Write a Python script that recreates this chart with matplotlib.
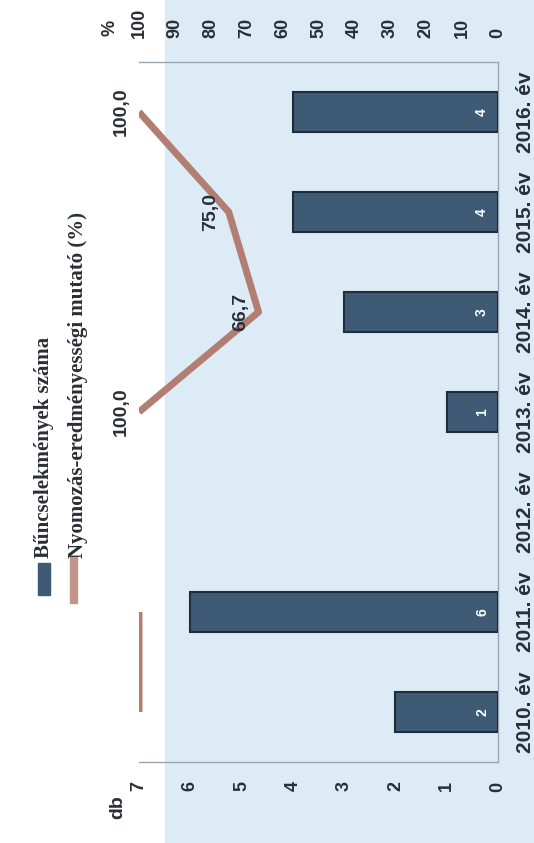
import matplotlib
matplotlib.use('Agg')
import matplotlib.pyplot as plt
import numpy as np
from matplotlib.patches import Rectangle
from matplotlib.lines import Line2D

# adatok
evek = ['2010. év', '2011. év', '2012. év', '2013. év', '2014. év', '2015. év', '2016. év']
bunc_szam = [2, 6, 0, 1, 3, 4, 4]
mutato = [100.0, 100.0, np.nan, 100.0, 66.7, 75.0, 100.0]
mutato_cimke = ['', '', '', '100,0', '66,7', '75,0', '100,0']
db_ticks = [0, 1, 2, 3, 4, 5, 6, 7]
pct_ticks = [0, 10, 20, 30, 40, 50, 60, 70, 80, 90, 100]
leg_bar = 'Bűncselekmények száma'
leg_line = 'Nyomozás-eredményességi mutató (%)'

W, H = 534, 843
SZOVEG = '#2a2e35'
OSZLOP = '#3e5a74'
VONAL = '#b27e72'
SANS = ['Liberation Sans', 'DejaVu Sans']
SERIF = ['Liberation Serif', 'DejaVu Serif']


def px(x, y):
    # kep pixel -> figure koordinata
    return x / W, 1 - y / H


fig = plt.figure(figsize=(W / 100, H / 100), dpi=100)
fig.patch.set_facecolor('white')

# a szkennelt lap kekes hattere
fig.patches.append(Rectangle(px(165, 843), (W - 165) / W, 1, transform=fig.transFigure,
                             color='#dcebf6', zorder=-1))

ax = fig.add_axes([139 / W, 1 - 762 / H, 359 / W, 700 / H])
ax.set_facecolor('none')
pos = np.arange(len(evek))

van = np.array(bunc_szam) > 0
ax.barh(pos[van], np.array(bunc_szam)[van], height=0.4, color=OSZLOP,
        edgecolor='#1f2d3a', linewidth=1.5, zorder=3)
ax.set_xlim(7, 0)
ax.set_ylim(-0.5, 6.5)

ax.set_xticks(db_ticks)
ax.set_xticklabels([str(t) for t in db_ticks], rotation=90, family=SANS,
                   fontweight='bold', fontsize=13, color=SZOVEG)
ax.yaxis.tick_right()
ax.set_yticks(pos)
ax.set_yticklabels(evek, rotation=90, va='center', family=SANS,
                   fontweight='bold', fontsize=15, color=SZOVEG)
ax.tick_params(length=0)
ax.tick_params(axis='x', pad=14)
ax.tick_params(axis='y', pad=13)

for s in ['top', 'bottom', 'right']:
    ax.spines[s].set_color('#9aa6b0')
    ax.spines[s].set_linewidth(1)
ax.spines['left'].set_visible(False)

# oszlop cimkek
for v, y in zip(bunc_szam, pos):
    if v:
        ax.annotate(str(v), (0, y), xytext=(-16, 0), textcoords='offset pixels',
                    rotation=90, ha='center', va='center', color='white', family=SANS,
                    fontsize=10, fontweight='bold', zorder=5)

# masodik tengely, szazalek
ax2 = ax.twiny()
ax2.set_xlim(100, 0)
ax2.plot(mutato, pos, color=VONAL, lw=5, solid_capstyle='butt', zorder=4)
ax2.set_xticks(pct_ticks)
ax2.set_xticklabels([str(t) for t in pct_ticks], rotation=90, family=SANS,
                    fontweight='bold', fontsize=13, color=SZOVEG)
ax2.tick_params(length=0, pad=17)
for s in ax2.spines.values():
    s.set_visible(False)

for x, y, c in zip(mutato, pos, mutato_cimke):
    if c:
        ax2.annotate(c, (x, y), xytext=(-18, 0), textcoords='offset pixels',
                     rotation=90, ha='center', va='center', family=SANS,
                     fontweight='bold', fontsize=14, color=SZOVEG, zorder=6)

# tengely feliratok
fig.text(*px(110, 28), '%', rotation=90, ha='center', va='center', family=SANS,
         fontweight='bold', fontsize=13, color=SZOVEG)
fig.text(*px(118, 807), 'db', rotation=90, ha='center', va='center', family=SANS,
         fontweight='bold', fontsize=14, color=SZOVEG)

# jelmagyarazat
fig.patches.append(Rectangle(px(38, 595), 12 / W, 32 / H, transform=fig.transFigure,
                             color=OSZLOP, zorder=3))
fig.lines.append(Line2D([73.5 / W, 73.5 / W], [1 - 600 / H, 1 - 560 / H],
                        transform=fig.transFigure, color='#c0958a', lw=6))
fig.text(*px(44, 558), leg_bar, rotation=90, ha='center', va='bottom', family=SERIF,
         fontweight='bold', fontsize=15, color=SZOVEG)
fig.text(*px(78, 558), leg_line, rotation=90, ha='center', va='bottom', family=SERIF,
         fontweight='bold', fontsize=15, color=SZOVEG)

fig.savefig('out.png', dpi=100)
